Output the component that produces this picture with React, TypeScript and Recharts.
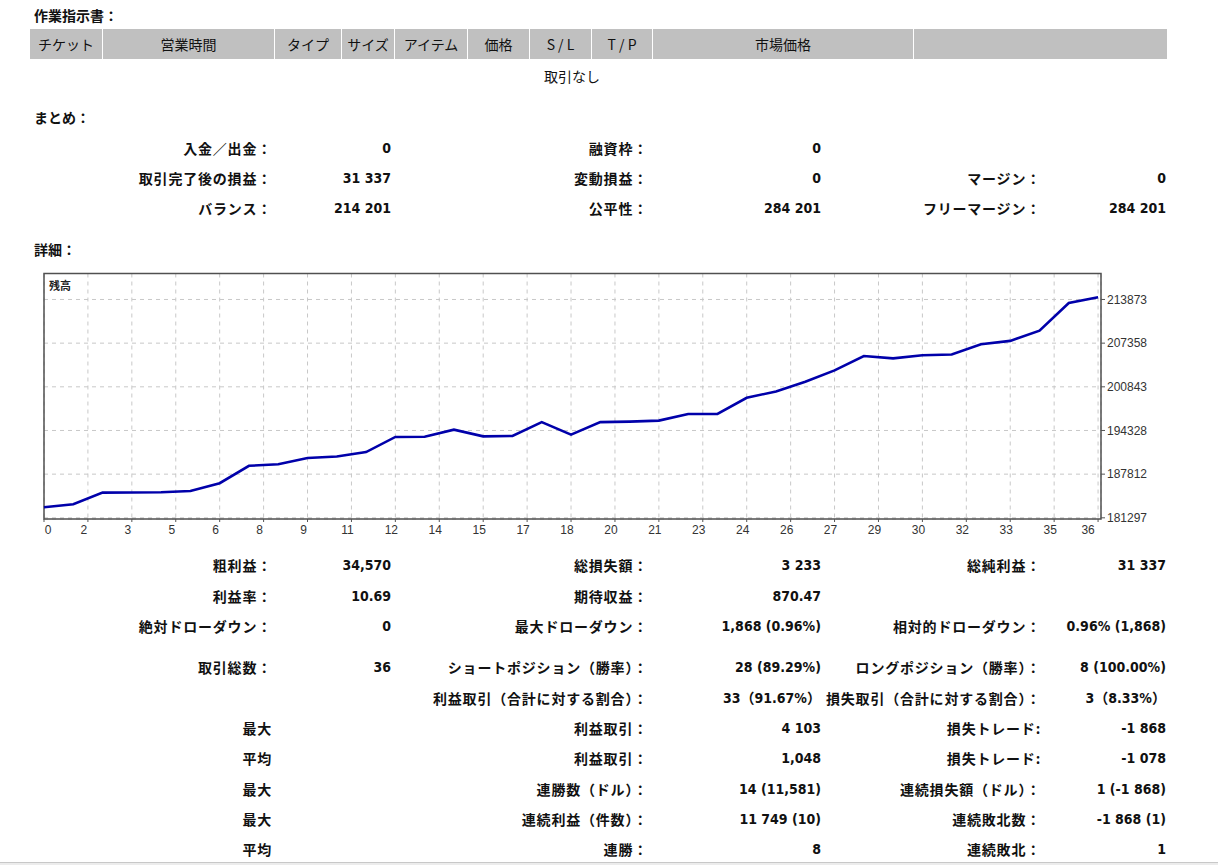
import React from 'react'
import { LineChart, Line, XAxis, YAxis, CartesianGrid, ReferenceArea } from 'recharts'

// balance after each closed trade (trade 0 = initial deposit)
const trades = [
  0, 1, 2, 3, 4, 5, 6, 7, 8, 9, 10, 11, 12, 13, 14, 15, 16, 17, 18,
  19, 20, 21, 22, 23, 24, 25, 26, 27, 28, 29, 30, 31, 32, 33, 34, 35, 36,
]
const balance = [
  182864, 183314, 185053, 185080, 185120, 185308, 186463, 189057, 189281, 190211,
  190451, 191111, 193360, 193400, 194454, 193454, 193510, 195573, 193705, 195579,
  195650, 195804, 196778, 196808, 199207, 200152, 201606, 203300, 205445, 205080,
  205550, 205655, 207199, 207694, 209223, 213347, 214201,
]

const xTicks = [0, 1.5, 3, 4.5, 6, 7.5, 9, 10.5, 12, 13.5, 15, 16.5, 18, 19.5, 21, 22.5, 24, 25.5, 27, 28.5, 30, 31.5, 33, 34.5, 36]
const xTickLabels = ['0', '2', '3', '5', '6', '8', '9', '11', '12', '14', '15', '17', '18', '20', '21', '23', '24', '26', '27', '29', '30', '32', '33', '35', '36']
const yTicks = [181297, 187812, 194328, 200843, 207358, 213873]
const Y_MIN = 181120
const Y_MAX = 217750
const X_MAX = 36.1

const headerCols = ['チケット', '営業時間', 'タイプ', 'サイズ', 'アイテム', '価格', 'S / L', 'T / P', '市場価格', '']
const headerEdges = [30, 103, 275, 342, 395, 468, 530, 592, 653, 914, 1168]

const summaryLabels1 = ['入金／出金：', '取引完了後の損益：', 'バランス：']
const summaryValues1 = ['0', '31 337', '214 201']
const summaryLabels2 = ['融資枠：', '変動損益：', '公平性：']
const summaryValues2 = ['0', '0', '284 201']
const summaryLabels3 = ['', 'マージン：', 'フリーマージン：']
const summaryValues3 = ['', '0', '284 201']
const summaryRowsY = [148, 178, 208]

const statLabels1 = ['粗利益：', '利益率：', '絶対ドローダウン：', '取引総数：', '', '最大', '平均', '最大', '最大', '平均']
const statValues1 = ['34,570', '10.69', '0', '36', '', '', '', '', '', '']
const statLabels2 = [
  '総損失額：', '期待収益：', '最大ドローダウン：', 'ショートポジション（勝率）：', '利益取引（合計に対する割合）：',
  '利益取引：', '利益取引：', '連勝数（ドル）：', '連続利益（件数）：', '連勝：',
]
const statValues2 = ['3 233', '870.47', '1,868 (0.96%)', '28 (89.29%)', '33（91.67%）', '4 103', '1,048', '14 (11,581)', '11 749 (10)', '8']
const statLabels3 = [
  '総純利益：', '', '相対的ドローダウン：', 'ロングポジション（勝率）：', '損失取引（合計に対する割合）：',
  '損失トレード:', '損失トレード:', '連続損失額（ドル）：', '連続敗北数：', '連続敗北：',
]
const statValues3 = ['31 337', '', '0.96% (1,868)', '8 (100.00%)', '3（8.33%）', '-1 868', '-1 078', '1 (-1 868)', '-1 868 (1)', '1']
const statRowsY = [565, 596, 626, 667, 698, 728, 758, 789, 819, 849]

const chartData = trades.map((t, i) => ({ trade: t, balance: balance[i] }))

const JP = '"Noto Sans CJK JP", sans-serif'
const NUM = '"DejaVu Sans Condensed", "DejaVu Sans", "Noto Sans CJK JP", sans-serif'
const TICK_FONT = 'Tahoma, "Liberation Sans", sans-serif'
const PAGE_W = 1218

// right-aligned label / value columns (right edges)
const COL_EDGES = [272, 391, 648, 821, 1041, 1166]

const Label = ({ right, y, text }: { right: number; y: number; text: string }) =>
  text ? (
    <div
      style={{
        position: 'absolute',
        right: PAGE_W - right,
        top: y - 11,
        lineHeight: '22px',
        fontFamily: JP,
        fontWeight: 700,
        fontSize: 14,
        letterSpacing: 0.8,
        whiteSpace: 'nowrap',
        color: '#111',
      }}
    >
      {text}
    </div>
  ) : null

const Value = ({ right, y, text }: { right: number; y: number; text: string }) =>
  text ? (
    <div
      style={{
        position: 'absolute',
        right: PAGE_W - right,
        top: y - 10,
        lineHeight: '20px',
        fontFamily: NUM,
        fontWeight: 700,
        fontSize: 14,
        whiteSpace: 'nowrap',
        color: '#111',
      }}
    >
      {text}
    </div>
  ) : null

const Title = ({ y, text }: { y: number; text: string }) => (
  <div
    style={{
      position: 'absolute',
      left: 34,
      top: y - 11,
      lineHeight: '22px',
      fontFamily: JP,
      fontWeight: 700,
      fontSize: 14,
      color: '#111',
    }}
  >
    {text}
  </div>
)

const XTick = (props: any) => {
  const { x, y, payload } = props
  const idx = xTicks.indexOf(payload.value)
  const dx = idx === 0 ? 4 : idx === xTicks.length - 1 ? -10 : -4
  return (
    <text x={x + dx} y={y + 1} dy="0.71em" textAnchor="middle" fontSize={12} fill="#333" fontFamily={TICK_FONT}>
      {xTickLabels[idx]}
    </text>
  )
}

export default function App() {
  return (
    <div style={{ position: 'absolute', left: 0, top: 0, width: PAGE_W, height: 865, background: '#fff', overflow: 'hidden' }}>
      <Title y={15} text="作業指示書：" />

      {headerCols.map((h, i) => (
        <div
          key={i}
          style={{
            position: 'absolute',
            left: headerEdges[i],
            top: 29,
            width: headerEdges[i + 1] - headerEdges[i] - 1,
            height: 30,
            background: '#c0c0c0',
            fontFamily: JP,
            fontSize: 14,
            lineHeight: '30px',
            textAlign: 'center',
            color: '#111',
          }}
        >
          {h}
        </div>
      ))}
      <div style={{ position: 'absolute', left: 30, width: 1084, top: 65, lineHeight: '22px', textAlign: 'center', fontFamily: JP, fontSize: 14, color: '#111' }}>
        取引なし
      </div>

      <Title y={117} text="まとめ：" />
      {summaryRowsY.map((y, i) => (
        <React.Fragment key={i}>
          <Label right={COL_EDGES[0]} y={y} text={summaryLabels1[i]} />
          <Value right={COL_EDGES[1]} y={y} text={summaryValues1[i]} />
          <Label right={COL_EDGES[2]} y={y} text={summaryLabels2[i]} />
          <Value right={COL_EDGES[3]} y={y} text={summaryValues2[i]} />
          <Label right={COL_EDGES[4]} y={y} text={summaryLabels3[i]} />
          <Value right={COL_EDGES[5]} y={y} text={summaryValues3[i]} />
        </React.Fragment>
      ))}

      <Title y={249} text="詳細：" />

      <div style={{ position: 'absolute', left: 0, top: 260, width: PAGE_W, height: 290 }}>
        <LineChart width={PAGE_W} height={290} data={chartData} margin={{ top: 13.5, right: 57, bottom: 6, left: 44 }}>
          <CartesianGrid stroke="#c8c8c8" strokeDasharray="4 4" />
          <XAxis
            dataKey="trade"
            type="number"
            domain={[0, X_MAX]}
            ticks={xTicks}
            interval={0}
            height={25}
            axisLine={false}
            tickLine={{ stroke: '#555' }}
            tickSize={3}
            tick={<XTick />}
          />
          <YAxis
            orientation="right"
            type="number"
            domain={[Y_MIN, Y_MAX]}
            ticks={yTicks}
            interval={0}
            width={60}
            axisLine={false}
            tickLine={{ stroke: '#555' }}
            tickSize={4}
            tick={{ fontSize: 12, fill: '#333', fontFamily: TICK_FONT }}
          />
          <ReferenceArea x1={0} x2={X_MAX} y1={Y_MIN} y2={Y_MAX} fill="none" stroke="#505050" strokeWidth={1.5} />
          <Line
            type="linear"
            dataKey="balance"
            stroke="#0000aa"
            strokeWidth={2.6}
            dot={false}
            isAnimationActive={false}
          />
        </LineChart>
        <div style={{ position: 'absolute', left: 49, top: 18, fontFamily: JP, fontSize: 11, fontWeight: 700, lineHeight: '14px', color: '#222' }}>
          残高
        </div>
      </div>

      {statRowsY.map((y, i) => (
        <React.Fragment key={i}>
          <Label right={COL_EDGES[0]} y={y} text={statLabels1[i]} />
          <Value right={COL_EDGES[1]} y={y} text={statValues1[i]} />
          <Label right={COL_EDGES[2]} y={y} text={statLabels2[i]} />
          <Value right={COL_EDGES[3]} y={y} text={statValues2[i]} />
          <Label right={COL_EDGES[4]} y={y} text={statLabels3[i]} />
          <Value right={COL_EDGES[5]} y={y} text={statValues3[i]} />
        </React.Fragment>
      ))}

      <div style={{ position: 'absolute', left: 0, top: 862, width: PAGE_W, height: 1, background: '#c8c8c8' }} />
      <div style={{ position: 'absolute', left: 0, top: 863, width: PAGE_W, height: 2, background: '#ececec' }} />
    </div>
  )
}
